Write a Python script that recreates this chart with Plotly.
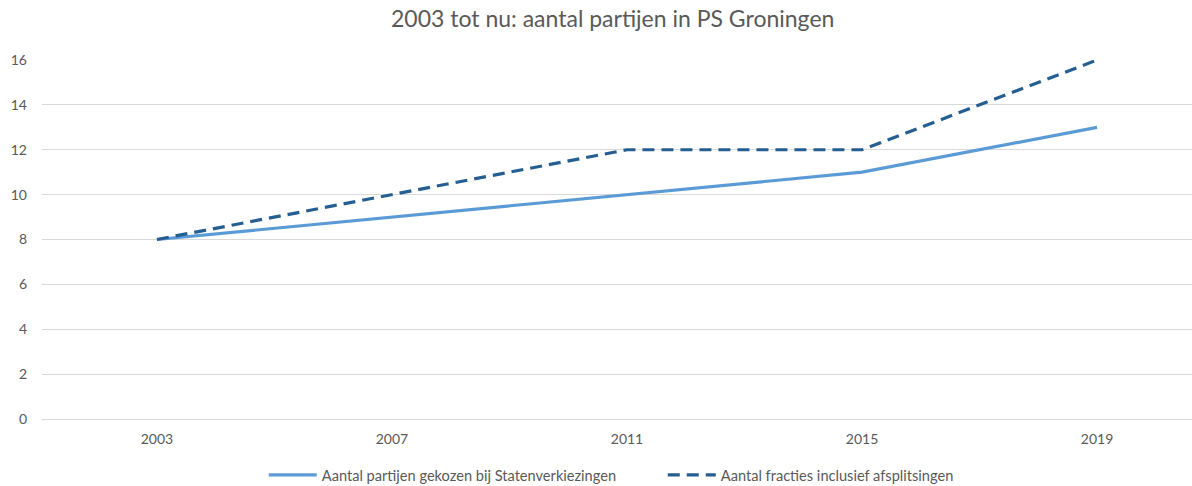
import plotly.graph_objects as go

years = ["2003", "2007", "2011", "2015", "2019"]
gekozen = [8, 9, 10, 11, 13]
fracties = [8, 10, 12, 12, 16]
y_ticks = [0, 2, 4, 6, 8, 10, 12, 14, 16]

fig = go.Figure()
fig.add_trace(go.Scatter(
    x=years, y=gekozen, mode="lines",
    name="Aantal partijen gekozen bij Statenverkiezingen",
    line=dict(color="#5B9BD5", width=3.2),
))
fig.add_trace(go.Scatter(
    x=years, y=fracties, mode="lines",
    name="Aantal fracties inclusief afsplitsingen",
    line=dict(color="#255E91", width=3.2, dash="12px,7px"),
))

font_fam = "Lato, 'Open Sans', sans-serif"
fig.update_layout(
    width=1192, height=486,
    margin=dict(l=42, r=0, t=60, b=67, autoexpand=False),
    paper_bgcolor="white", plot_bgcolor="white",
    title=dict(text="2003 tot nu: aantal partijen in PS Groningen",
               x=0.514, xanchor="center", y=0.961, yanchor="middle",
               font=dict(family=font_fam, size=23, color="#595959")),
    font=dict(family=font_fam, size=14, color="#595959"),
    showlegend=True,
    legend=dict(orientation="h", x=0.556, xanchor="center", xref="container",
                y=0.023, yanchor="middle", yref="container",
                font=dict(size=14.6, color="#595959"), itemwidth=48,
                entrywidthmode="pixels", entrywidth=336, traceorder="normal"),
    xaxis=dict(type="category", range=[-0.489, 4.404], showgrid=False,
               showline=False, ticks="", ticklabelstandoff=10, automargin=False,
               tickfont=dict(size=14, color="#595959")),
    yaxis=dict(range=[0, 16], tickvals=y_ticks, showgrid=True, gridcolor="#D9D9D9",
               gridwidth=1, zeroline=True, zerolinecolor="#D9D9D9", zerolinewidth=1,
               showline=False, ticks="", ticklabelstandoff=14, automargin=False,
               tickfont=dict(size=14, color="#595959")),
)

fig.write_html("out.html", config={"displayModeBar": False},
               post_script="document.body.style.margin='0';document.body.style.overflow='hidden';")
